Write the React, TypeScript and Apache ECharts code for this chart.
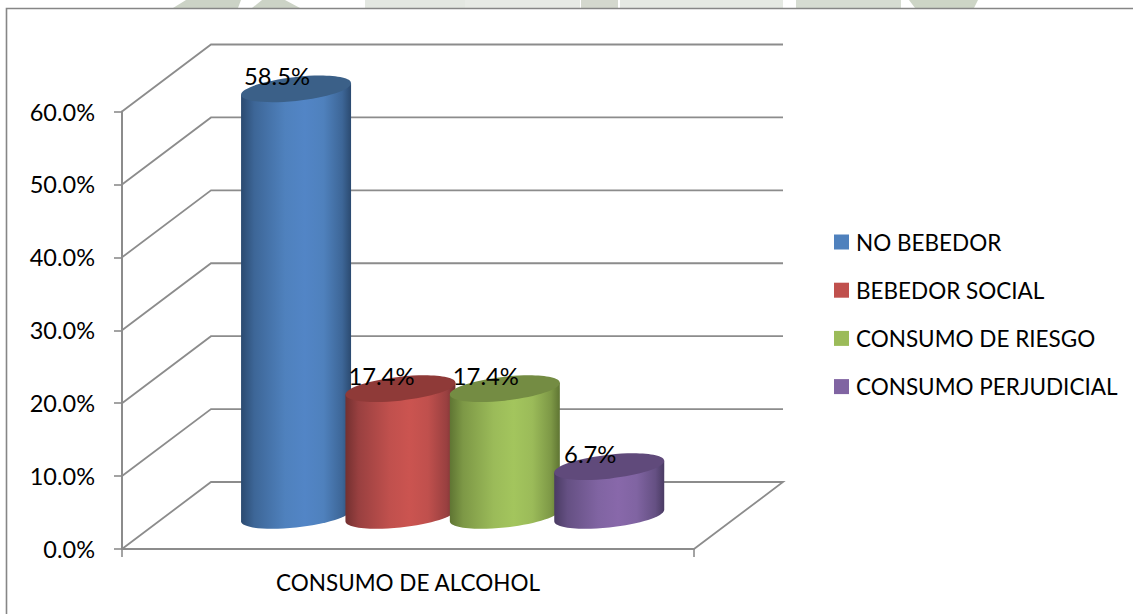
import React, { useEffect, useRef } from "react";
import * as echarts from "echarts";

const categories = ["CONSUMO DE ALCOHOL"];
const seriesNames = ["NO BEBEDOR", "BEBEDOR SOCIAL", "CONSUMO DE RIESGO", "CONSUMO PERJUDICIAL"];
const seriesValues = [58.5, 17.4, 17.4, 6.7];
const yTicks = [0, 10, 20, 30, 40, 50, 60];
const baseColors = ["#4f81bd", "#c0504d", "#9bbb59", "#8064a2"];
const brightColors = ["#5285c6", "#cb5450", "#a3c55d", "#8868aa"];
const midColors = ["#3d6697", "#994040", "#7d9846", "#655083"];
const darkColors = ["#2b4a70", "#733030", "#5f7533", "#4a3b63"];
const capColors = ["#3b6088", "#8f3a38", "#748c43", "#604a7b"];

const GRID = "#8c8c8c";
const FONT = "Lato";
const DEPTH_X = 89;
const DEPTH_Y = -67;
const RX = 55;
const RY = 12;
const SHEAR = 0.105;
const KAPPA = 0.5523;
const FIRST = 0.2265;
const STEP = 0.1825;

const wall = (params: any, api: any) => {
  const p = api.coord([0, api.value(0)]);
  const w = api.size([1, 0])[0];
  const pts = [
    [p[0] - w / 2, p[1]],
    [p[0] - w / 2 + DEPTH_X, p[1] + DEPTH_Y],
    [p[0] + w / 2 + DEPTH_X, p[1] + DEPTH_Y],
  ];
  if (api.value(0) === 0) pts.push([p[0] + w / 2, p[1]]);
  return {
    type: "polyline",
    shape: { points: pts },
    silent: true,
    style: { stroke: GRID, lineWidth: 1.8, fill: "none" },
  };
};

// one half of a sheared ellipse, from its left end to its right end; side=1 lower
const halfEllipse = (cx: number, cy: number, side: number) => {
  const P = (x: number, y: number) => `${cx + x} ${cy + y - SHEAR * x}`;
  const a = RX;
  const b = RY * side;
  const k = KAPPA;
  return (
    `C ${P(-a, k * b)} ${P(-k * a, b)} ${P(0, b)} ` +
    `C ${P(k * a, b)} ${P(a, k * b)} ${P(a, 0)} `
  );
};

const cylinder = (i: number) => (params: any, api: any) => {
  const x0 = api.coord([api.value(0), 0]);
  const yt = api.coord([api.value(0), api.value(1)]);
  const w = api.size([1, 0])[0];
  const cx = x0[0] - w / 2 + w * (FIRST + STEP * i) + DEPTH_X / 2;
  const base = x0[1] + DEPTH_Y / 2;
  const top = yt[1] + DEPTH_Y / 2;
  const dy = RX * SHEAR;
  const body =
    `M ${cx - RX} ${top + dy} L ${cx - RX} ${base + dy} ` +
    halfEllipse(cx, base, 1) +
    `L ${cx + RX} ${top - dy} Z`;
  const cap =
    `M ${cx - RX} ${top + dy} ` +
    halfEllipse(cx, top, 1) +
    `C ${cx + RX} ${top - dy - KAPPA * RY} ${cx + KAPPA * RX} ${top - SHEAR * KAPPA * RX - RY} ${cx} ${top - RY} ` +
    `C ${cx - KAPPA * RX} ${top + SHEAR * KAPPA * RX - RY} ${cx - RX} ${top + dy - KAPPA * RY} ${cx - RX} ${top + dy} Z`;
  return {
    type: "group",
    children: [
      {
        type: "path",
        shape: { pathData: body },
        style: {
          fill: new echarts.graphic.LinearGradient(0, 0, 1, 0, [
            { offset: 0, color: darkColors[i] },
            { offset: 0.12, color: midColors[i] },
            { offset: 0.4, color: baseColors[i] },
            { offset: 0.58, color: brightColors[i] },
            { offset: 0.75, color: baseColors[i] },
            { offset: 0.92, color: midColors[i] },
            { offset: 1, color: darkColors[i] },
          ]),
        },
      },
      {
        type: "path",
        shape: { pathData: cap },
        style: { fill: capColors[i] },
      },
      {
        type: "text",
        x: cx - 19,
        y: top - 13,
        z2: 10,
        style: {
          text: api.value(1).toFixed(1) + "%",
          fontFamily: FONT,
          fontSize: 23.8,
          fill: "#000",
          align: "center",
          verticalAlign: "middle",
        },
      },
    ],
  };
};

const watermark = [
  [[173, 8], [186, 0], [241, 0], [238, 8]],
  [[252, 8], [262, 0], [285, 0], [300, 8]],
  [[365, 8], [365, 0], [465, 0], [465, 8]],
  [[465, 8], [465, 0], [580, 0], [580, 8]],
  [[581, 8], [581, 0], [618, 0], [618, 8]],
  [[620, 8], [620, 0], [783, 0], [783, 8]],
  [[796, 8], [796, 0], [901, 0], [901, 8]],
  [[909, 0], [978, 0], [974, 8], [915, 8]],
];
const watermarkColors = ["#ccd3c6", "#ccd3c6", "#e3e7e1", "#e7eae5", "#d4d8ce", "#e5e9e3", "#d6dcd2", "#cdd5c6"];

export default function App() {
  const ref = useRef<HTMLDivElement>(null);
  useEffect(() => {
    document.body.style.margin = "0";
    const chart = echarts.init(ref.current!, null, { renderer: "svg" });
    chart.setOption({
      animation: false,
      backgroundColor: "#ffffff",
      textStyle: { fontFamily: FONT },
      grid: { left: 122, top: 111.5, width: 572, height: 437.5 },
      xAxis: {
        type: "category",
        data: categories,
        axisLine: { lineStyle: { color: GRID, width: 2 } },
        axisTick: { show: true, length: 8, alignWithLabel: false, lineStyle: { color: GRID, width: 1.6 } },
        axisLabel: { color: "#000", fontFamily: FONT, fontSize: 22.5, margin: 22 },
      },
      yAxis: {
        type: "value",
        min: 0,
        max: 60,
        interval: 10,
        axisLine: { show: true, lineStyle: { color: GRID, width: 2 } },
        axisTick: { show: true, length: 8, lineStyle: { color: GRID, width: 1.6 } },
        splitLine: { show: false },
        axisLabel: {
          color: "#000",
          fontFamily: FONT,
          fontSize: 23.5,
          margin: 27,
          formatter: (v: number) => v.toFixed(1) + "%",
        },
      },
      legend: {
        orient: "vertical",
        left: 834,
        top: 230.5,
        padding: 0,
        icon: "rect",
        itemWidth: 15,
        itemHeight: 15,
        itemGap: 25.2,
        data: seriesNames,
        textStyle: { color: "#000", fontFamily: FONT, fontSize: 22.5, lineHeight: 20, padding: [0, 0, 0, 2] },
      },
      graphic: [
        ...watermark.map((points, i) => ({
          type: "polygon",
          silent: true,
          shape: { points },
          style: { fill: watermarkColors[i] },
        })),
        {
          type: "polyline",
          silent: true,
          shape: { points: [[6.5, 614], [6.5, 8.5], [1133, 8.5]] },
          style: { stroke: "#868686", lineWidth: 1.6, fill: "none" },
        },
      ],
      series: [
        {
          type: "custom",
          name: "walls",
          z: 1,
          silent: true,
          renderItem: wall,
          data: yTicks.map((t) => [t]),
          encode: { y: 0 },
        },
        ...seriesNames.map((name, i) => ({
          type: "custom",
          name,
          z: 3 + i,
          silent: true,
          itemStyle: { color: baseColors[i] },
          renderItem: cylinder(i),
          encode: { x: 0, y: 1 },
          data: [[0, seriesValues[i]]],
        })),
      ],
    });
    return () => chart.dispose();
  }, []);
  return <div ref={ref} style={{ width: 1133, height: 614 }} />;
}
